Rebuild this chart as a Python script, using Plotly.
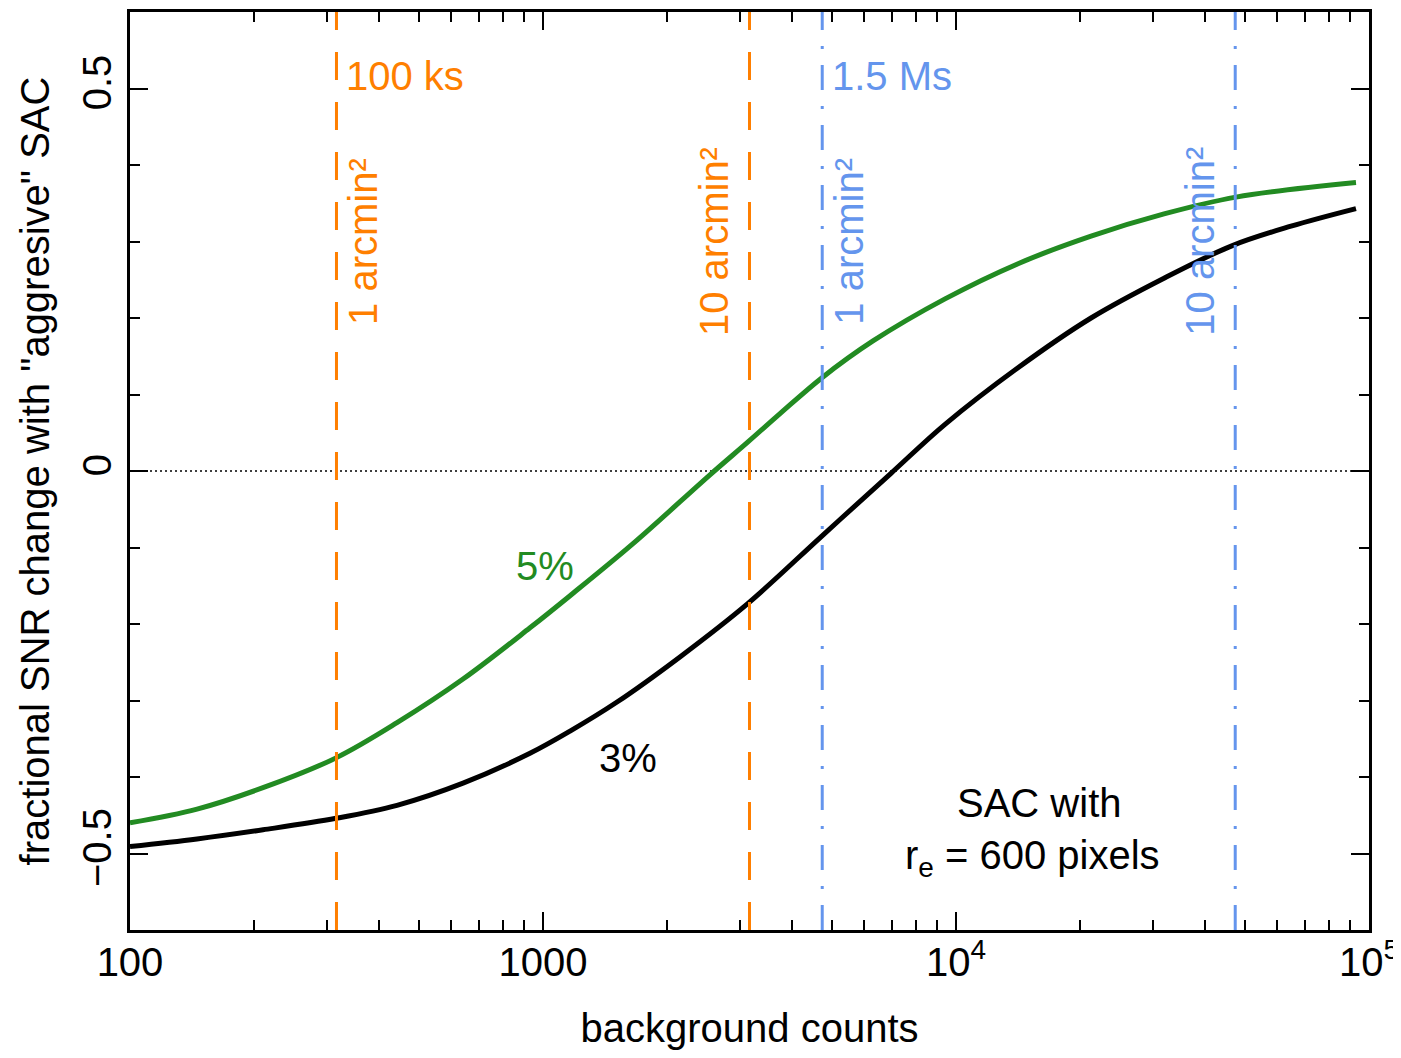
import math
import plotly.graph_objects as go

# ---- data ----
green_x = [100, 145.3, 209.9, 315.4, 443.1, 640.3, 930, 1162.8, 1651.6, 2537, 3136, 3749,
           4738, 6295, 9406, 14130, 21230, 31890, 47640, 93000]
green_y = [-0.460, -0.442, -0.414, -0.375, -0.329, -0.272, -0.205, -0.163, -0.095, -0.005,
           0.038, 0.075, 0.122, 0.170, 0.225, 0.271, 0.307, 0.336, 0.358, 0.377]

black_x = [100, 145.3, 209.9, 315.4, 443.1, 640.3, 930, 1162.8, 1511, 2146, 3136, 4712,
           6960, 9406, 14130, 21230, 31890, 46850, 64730, 93000]
black_y = [-0.491, -0.481, -0.469, -0.454, -0.437, -0.408, -0.369, -0.340, -0.302, -0.243,
           -0.173, -0.086, -0.003, 0.061, 0.135, 0.200, 0.252, 0.295, 0.320, 0.343]

orange_lines = [316.2, 3162.3]      # 100 ks: 1 and 10 arcmin^2
blue_lines = [4743.4, 47434.0]      # 1.5 Ms: 1 and 10 arcmin^2
area_labels = ["1 arcmin²", "10 arcmin²"]

x_tickvals = [100, 1000, 1e4, 1e5]
x_ticktext = ["100", "1000", "10<sup>4</sup>", "10<sup>5</sup>"]
x_minor = [m * 10 ** d for d in (2, 3, 4) for m in range(2, 10)]
y_tickvals = [-0.5, 0, 0.5]
y_ticktext = ["\u22120.5", "0", "0.5"]
y_minor = [-0.4, -0.3, -0.2, -0.1, 0.1, 0.2, 0.3, 0.4]

ORANGE = "#FF7F00"
BLUE = "#6495ED"
GREEN = "#228B22"
FONT = "Liberation Sans"

L = math.log10

fig = go.Figure()

# zero line
fig.add_trace(go.Scatter(x=[100, 1e5], y=[0, 0], mode="lines",
                         line=dict(color="black", width=1.3, dash="2px,3px"),
                         showlegend=False, hoverinfo="skip"))

fig.add_trace(go.Scatter(x=green_x, y=green_y, mode="lines",
                         line=dict(color=GREEN, width=5, shape="spline", smoothing=1),
                         showlegend=False))
fig.add_trace(go.Scatter(x=black_x, y=black_y, mode="lines",
                         line=dict(color="black", width=5, shape="spline", smoothing=1),
                         showlegend=False))

for v in orange_lines:
    fig.add_trace(go.Scatter(x=[v, v], y=[-0.6, 0.6], mode="lines",
                             line=dict(color=ORANGE, width=3, dash="28px,22px"),
                             showlegend=False, hoverinfo="skip"))
for v in blue_lines:
    fig.add_trace(go.Scatter(x=[v, v], y=[-0.6, 0.6], mode="lines",
                             line=dict(color=BLUE, width=3, dash="25px,16px,3px,16px"),
                             showlegend=False, hoverinfo="skip"))

ann = []
fs = 40
# exposure labels
ann.append(dict(x=L(orange_lines[0]), y=0.516, text="100 ks", showarrow=False, xanchor="left",
                yanchor="middle", xshift=8, font=dict(color=ORANGE, size=fs, family=FONT)))
ann.append(dict(x=L(blue_lines[0]), y=0.516, text="1.5 Ms", showarrow=False, xanchor="left",
                yanchor="middle", xshift=8, font=dict(color=BLUE, size=fs, family=FONT)))
# rotated area labels
for lines, col in ((orange_lines, ORANGE), (blue_lines, BLUE)):
    ann.append(dict(x=L(lines[0]), y=0.30, text=area_labels[0], showarrow=False, textangle=-90,
                    xanchor="center", yanchor="middle", xshift=26,
                    font=dict(color=col, size=fs, family=FONT)))
    ann.append(dict(x=L(lines[1]), y=0.30, text=area_labels[1], showarrow=False, textangle=-90,
                    xanchor="center", yanchor="middle", xshift=-36,
                    font=dict(color=col, size=fs, family=FONT)))
# curve labels
ann.append(dict(x=L(1012), y=-0.124, text="5%", showarrow=False,
                font=dict(color=GREEN, size=fs, family=FONT)))
ann.append(dict(x=L(1607), y=-0.375, text="3%", showarrow=False,
                font=dict(color="black", size=fs, family=FONT)))
ann.append(dict(x=L(15960), y=-0.434, text="SAC with", showarrow=False,
                font=dict(color="black", size=fs, family=FONT)))
ann.append(dict(x=L(15300), y=-0.506, text="r<sub>e</sub> = 600 pixels", showarrow=False,
                font=dict(color="black", size=fs, family=FONT)))

axis_common = dict(showgrid=False, zeroline=False, showline=True, linecolor="black",
                   linewidth=2.5, mirror="ticks", ticks="inside", ticklen=18, tickwidth=2,
                   tickcolor="black", automargin=False, ticklabeloverflow="allow",
                   tickfont=dict(size=fs, family=FONT, color="black"))

# the page body adds an 8px margin on the left/top, so the figure is offset by 8px
fig.update_layout(
    width=1393, height=1042,
    margin=dict(l=122, r=32, t=4, b=120),
    paper_bgcolor="white", plot_bgcolor="white",
    annotations=ann,
    font=dict(family=FONT, color="black"),
    xaxis=dict(type="log", range=[2, 5], tickmode="array", tickvals=x_tickvals,
               ticktext=x_ticktext, ticklabelstandoff=-5,
               minor=dict(tickmode="array", tickvals=x_minor, ticks="inside", ticklen=10,
                          tickwidth=2, tickcolor="black"),
               title=dict(text="background counts", font=dict(size=fs, family=FONT),
                          standoff=46),
               **axis_common),
    yaxis=dict(range=[-0.6, 0.6], tickmode="array", tickvals=y_tickvals,
               ticktext=y_ticktext, tickangle=-90,
               minor=dict(tickmode="array", tickvals=y_minor, ticks="inside", ticklen=10,
                          tickwidth=2, tickcolor="black"),
               title=dict(text='fractional SNR change with "aggresive" SAC',
                          font=dict(size=fs, family=FONT), standoff=14),
               **axis_common),
)

fig.write_html("out.html")
